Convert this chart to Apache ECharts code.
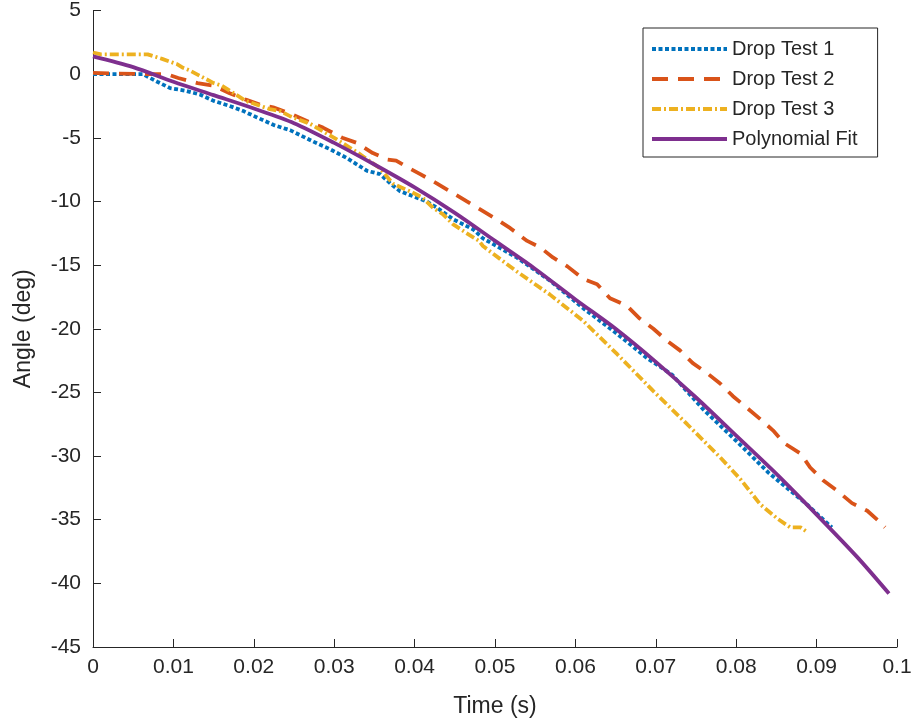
<!DOCTYPE html>
<html>
<head>
<meta charset="utf-8">
<title>Drop Test Angle</title>
<script src="https://cdn.jsdelivr.net/npm/echarts@6/dist/echarts.min.js"></script>
<style>
  html, body { margin: 0; padding: 0; background: #fff; }
  #chart { width: 915px; height: 725px; }
</style>
</head>
<body>
<div id="chart"></div>
<script>
// values (time in s, angle in deg)
var seriesNames = ['Drop Test 1', 'Drop Test 2', 'Drop Test 3', 'Polynomial Fit'];

var test1Time  = [0, 0.0062, 0.008, 0.0096, 0.0115, 0.0133, 0.015, 0.017, 0.0187, 0.0204, 0.0225, 0.0245, 0.0274, 0.0295, 0.0316, 0.0341, 0.0357, 0.037, 0.0382, 0.0415, 0.0428, 0.0448, 0.0473, 0.0485, 0.0527, 0.0568, 0.061, 0.0652, 0.0689, 0.072, 0.076, 0.08, 0.084, 0.0888, 0.0905, 0.0919];
var test1Angle = [0, 0, -0.6, -1.1, -1.3, -1.6, -2.1, -2.5, -2.9, -3.4, -4.0, -4.4, -5.3, -5.9, -6.6, -7.6, -7.85, -8.6, -9.2, -10.0, -10.5, -11.4, -12.2, -12.9, -14.4, -16.2, -18.4, -20.4, -22.3, -23.6, -26.4, -28.8, -31.3, -33.8, -34.8, -35.6];

var test2Time  = [0, 0.0062, 0.0092, 0.0106, 0.013, 0.015, 0.017, 0.019, 0.0208, 0.0224, 0.0249, 0.027, 0.0286, 0.031, 0.0328, 0.0348, 0.0366, 0.0377, 0.0388, 0.0407, 0.0428, 0.0444, 0.0465, 0.0481, 0.0502, 0.0519, 0.054, 0.0556, 0.0572, 0.059, 0.061, 0.0627, 0.0643, 0.0664, 0.068, 0.0697, 0.0715, 0.073, 0.0746, 0.0764, 0.078, 0.0796, 0.0815, 0.083, 0.0846, 0.086, 0.088, 0.0892, 0.0908, 0.0925, 0.0944, 0.0963, 0.0979, 0.0985];
var test2Angle = [0.1, 0, 0, -0.3, -0.7, -0.9, -1.5, -2.0, -2.4, -2.6, -3.2, -3.8, -4.2, -5.0, -5.4, -6.2, -6.7, -6.8, -7.2, -7.85, -8.6, -9.2, -10.0, -10.6, -11.4, -12.1, -13.1, -13.6, -14.4, -15.1, -16.1, -16.5, -17.6, -18.2, -19.2, -20.0, -21.0, -21.7, -22.7, -23.5, -24.3, -25.3, -26.3, -27.1, -28.0, -29.0, -29.8, -30.9, -31.9, -32.7, -33.7, -34.3, -35.2, -35.6];

var test3Time  = [0, 0.001, 0.0068, 0.0086, 0.0104, 0.0112, 0.012, 0.015, 0.016, 0.017, 0.019, 0.0204, 0.022, 0.0233, 0.0245, 0.027, 0.03, 0.033, 0.0357, 0.0373, 0.0394, 0.041, 0.0423, 0.0435, 0.0448, 0.046, 0.048, 0.0485, 0.0527, 0.0568, 0.061, 0.0652, 0.0697, 0.0739, 0.078, 0.0805, 0.083, 0.0851, 0.0867, 0.088, 0.0889];
var test3Angle = [1.7, 1.55, 1.55, 1.2, 0.8, 0.5, 0.3, -0.7, -0.9, -1.3, -2.1, -2.4, -2.75, -2.9, -3.3, -3.9, -5.0, -6.2, -7.4, -8.6, -9.2, -9.7, -10.5, -11.0, -11.8, -12.3, -13.1, -13.5, -15.5, -17.3, -19.4, -22.0, -24.9, -27.5, -30.1, -31.8, -33.8, -34.9, -35.6, -35.6, -36.0];

var fitTime  = [0, 0.005, 0.01, 0.015, 0.02, 0.025, 0.03, 0.035, 0.04, 0.045, 0.05, 0.055, 0.06, 0.065, 0.07, 0.075, 0.08, 0.085, 0.09, 0.095, 0.099];
var fitAngle = [1.4, 0.55, -0.6, -1.65, -2.7, -3.85, -5.4, -7.1, -8.9, -10.9, -13.1, -15.3, -17.7, -20.0, -22.6, -25.4, -28.4, -31.4, -34.6, -37.9, -40.8];

var pairs = function (xs, ys) {
    return xs.map(function (x, i) { return [x, ys[i]]; });
};

var font = 'Liberation Sans, Arial, Helvetica, sans-serif';
var ink = '#262626';

var myChart = echarts.init(document.getElementById('chart'), null, { renderer: 'canvas' });

var option = {
    backgroundColor: '#ffffff',
    animation: false,
    grid: { left: 93, right: 18, top: 10, bottom: 78, containLabel: false },
    legend: {
        orient: 'vertical',
        left: 643,
        top: 28,
        data: seriesNames,
        itemWidth: 75,
        itemHeight: 14,
        itemGap: 10,
        padding: [11, 20, 8, 7],
        backgroundColor: '#ffffff',
        borderColor: ink,
        borderWidth: 1,
        borderRadius: 0,
        // hide the marker dot, keep only the styled line
        itemStyle: { opacity: 0, borderWidth: 0 },
        lineStyle: { width: 4 },
        textStyle: { fontFamily: font, fontSize: 20, color: ink }
    },
    xAxis: {
        type: 'value',
        min: 0,
        max: 0.1,
        interval: 0.01,
        name: 'Time (s)',
        nameLocation: 'middle',
        nameGap: 48,
        nameTextStyle: { fontFamily: font, fontSize: 23, color: ink },
        axisLine: { show: true, onZero: false, lineStyle: { color: ink, width: 1 } },
        axisTick: { show: true, inside: true, length: 8, lineStyle: { color: ink } },
        axisLabel: {
            fontFamily: font, fontSize: 21, color: ink, margin: 10,
            formatter: function (v) { return String(parseFloat(v.toFixed(3))); }
        },
        splitLine: { show: false }
    },
    yAxis: {
        type: 'value',
        min: -45,
        max: 5,
        interval: 5,
        name: 'Angle (deg)',
        nameLocation: 'middle',
        nameGap: 58,
        nameTextStyle: { fontFamily: font, fontSize: 23, color: ink },
        axisLine: { show: true, onZero: false, lineStyle: { color: ink, width: 1 } },
        axisTick: { show: true, inside: true, length: 8, lineStyle: { color: ink } },
        axisLabel: { fontFamily: font, fontSize: 21, color: ink, margin: 12 },
        splitLine: { show: false }
    },
    series: [
        {
            name: seriesNames[0],
            type: 'line',
            symbol: 'none',
            data: pairs(test1Time, test1Angle),
            itemStyle: { color: '#0072BD' },
            lineStyle: { color: '#0072BD', width: 3.8, type: [4, 2.5] }
        },
        {
            name: seriesNames[1],
            type: 'line',
            symbol: 'none',
            data: pairs(test2Time, test2Angle),
            itemStyle: { color: '#D95319' },
            lineStyle: { color: '#D95319', width: 3.8, type: [16, 10] }
        },
        {
            name: seriesNames[2],
            type: 'line',
            symbol: 'none',
            data: pairs(test3Time, test3Angle),
            itemStyle: { color: '#EDB120' },
            lineStyle: { color: '#EDB120', width: 3.8, type: [9, 3, 2, 3] }
        },
        {
            name: seriesNames[3],
            type: 'line',
            symbol: 'none',
            smooth: 0.3,
            data: pairs(fitTime, fitAngle),
            itemStyle: { color: '#7E2F8E' },
            lineStyle: { color: '#7E2F8E', width: 3.8, type: 'solid' }
        }
    ]
};

myChart.setOption(option, true);
</script>
</body>
</html>
